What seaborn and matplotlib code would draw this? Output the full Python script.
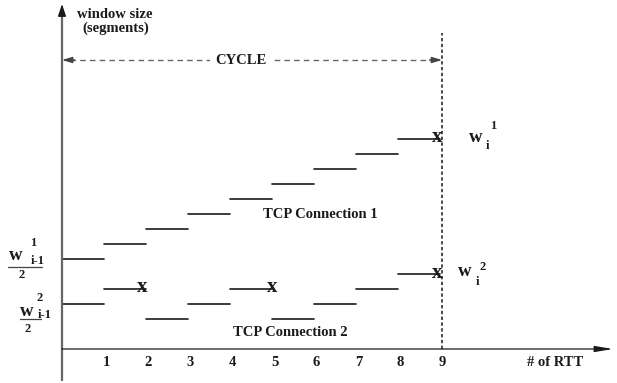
import numpy as np
import pandas as pd
import matplotlib
matplotlib.use("Agg")
import matplotlib.pyplot as plt
import seaborn as sns

# ---- data -------------------------------------------------------------
rtt_ticks = [1, 2, 3, 4, 5, 6, 7, 8, 9]
rtt_tick_labels = ["1", "2", "3", "4", "5", "6", "7", "8", "9"]

# congestion window (segments) held during each RTT interval [i, i+1)
conn1_window = [6, 7, 8, 9, 10, 11, 12, 13, 14]
conn2_window = [3, 4, 2, 3, 4, 2, 3, 4, 5]

# packet-loss events (RTT, window)
conn1_loss_rtt = [8.93]
conn1_loss_window = [14]
conn2_loss_rtt = [1.9, 5.0, 8.93]
conn2_loss_window = [4, 4, 5]

cycle_end = 9.05

# ---- long-form table of step segments ---------------------------------
rows = []
for name, wins in (("TCP Connection 1", conn1_window), ("TCP Connection 2", conn2_window)):
    for i, w in enumerate(wins):
        seg = f"{name}-{i}"
        rows.append({"connection": name, "segment": seg, "rtt": i, "window": w})
        rows.append({"connection": name, "segment": seg, "rtt": i + 1, "window": w})
steps = pd.DataFrame(rows)

# ---- figure -----------------------------------------------------------
sns.set_theme(style="white")
plt.rcParams["font.family"] = ["Liberation Serif", "DejaVu Serif"]

W, H = 617, 383
fig = plt.figure(figsize=(W / 100, H / 100), dpi=100)
ax = fig.add_axes([0, 0, 1, 1])
ax.axis("off")

X0, Y0, SX, SY = 62, 349, 42, 15  # origin and unit sizes in pixels


def dx(px):
    return (px - X0) / SX


def dy(py):
    return (Y0 - py) / SY


ax.set_xlim(dx(0), dx(W))
ax.set_ylim(dy(H), dy(0))

ink = "#1a1a1a"
bold = dict(fontweight="bold", color=ink)

# step segments of both connections
sns.lineplot(data=steps, x="rtt", y="window", units="segment", estimator=None,
             color=ink, lw=1.2, legend=False, ax=ax)

# loss marks
for xs, ys in ((conn1_loss_rtt, conn1_loss_window), (conn2_loss_rtt, conn2_loss_window)):
    for x, y in zip(xs, ys):
        ax.text(x, y + 0.1, "x", ha="center", va="center", fontsize=15, **bold)

# axes lines
ax.plot([0, 0], [dy(381), dy(10)], color="#666666", lw=1.6, solid_capstyle="butt")
ax.annotate("", xy=(0, dy(4)), xytext=(0, dy(14)),
            arrowprops=dict(arrowstyle="-|>,head_length=0.6,head_width=0.2",
                            color=ink, lw=1.0, shrinkA=0, shrinkB=0))
ax.annotate("", xy=(dx(613), 0), xytext=(0, 0),
            arrowprops=dict(arrowstyle="-|>,head_length=0.9,head_width=0.15",
                            color=ink, lw=0.9, shrinkA=0, shrinkB=0))

# end of cycle marker
ax.plot([cycle_end, cycle_end], [0, dy(33)], color=ink, lw=1.1,
        linestyle=(0, (2.2, 1.6)))

# cycle span
yc = dy(60)
ax.plot([0.2, cycle_end - 0.2], [yc, yc], color="#666666", lw=1.0,
        linestyle=(0, (4, 3)))
for a, b in ((0.3, 0.0), (cycle_end - 0.3, cycle_end)):
    ax.annotate("", xy=(b, yc), xytext=(a, yc),
                arrowprops=dict(arrowstyle="-|>,head_length=0.5,head_width=0.15",
                                color="#444444", lw=1.0, shrinkA=0, shrinkB=0))
ax.text(dx(241), yc, "CYCLE", ha="center", va="center", fontsize=10.5,
        bbox=dict(boxstyle="square,pad=0.35", fc="white", ec="none"), **bold)

# tick labels on the RTT axis
for t, lab in zip(rtt_ticks, rtt_tick_labels):
    ax.text(t + 0.06, dy(362), lab, ha="center", va="center", fontsize=10.5, **bold)
ax.text(dx(555), dy(362), "# of RTT", ha="center", va="center", fontsize=10.5, **bold)

# y-axis title
ax.text(dx(115), dy(14), "window size", ha="center", va="center", fontsize=10.5, **bold)
ax.text(dx(116), dy(28), "(segments)", ha="center", va="center", fontsize=10.5, **bold)

# curve labels
ax.text(dx(320), dy(214), "TCP Connection 1", ha="center", va="center", fontsize=10.5, **bold)
ax.text(dx(290), dy(332), "TCP Connection 2", ha="center", va="center", fontsize=10.5, **bold)

# w_{i-1}/2 labels on the left
def frac_label(w_xy, sub_xy, sup_xy, sup, line_x, line_y, two_xy):
    ax.text(dx(w_xy[0]), dy(w_xy[1]), "w", ha="center", va="center", fontsize=13.5, **bold)
    ax.text(dx(sub_xy[0]), dy(sub_xy[1]), "i-1", ha="center", va="center", fontsize=9, **bold)
    ax.text(dx(sup_xy[0]), dy(sup_xy[1]), sup, ha="center", va="center", fontsize=9, **bold)
    ax.plot([dx(line_x[0]), dx(line_x[1])], [dy(line_y), dy(line_y)], color="#444444", lw=0.9)
    ax.text(dx(two_xy[0]), dy(two_xy[1]), "2", ha="center", va="center", fontsize=9, **bold)


frac_label((16, 256), (38, 261), (33, 243), "1", (8, 42), 267, (22, 275))
frac_label((27, 311), (45, 315), (40, 298), "2", (20, 41), 319, (28, 329))

# w_i labels on the right
def wi_label(w_xy, sub_xy, sup_xy, sup):
    ax.text(dx(w_xy[0]), dy(w_xy[1]), "w", ha="center", va="center", fontsize=13.5, **bold)
    ax.text(dx(sub_xy[0]), dy(sub_xy[1]), "i", ha="center", va="center", fontsize=9, **bold)
    ax.text(dx(sup_xy[0]), dy(sup_xy[1]), sup, ha="center", va="center", fontsize=9, **bold)


wi_label((476, 138), (487, 146), (493, 126), "1")
wi_label((465, 272), (477, 282), (483, 267), "2")

fig.savefig("out.png", dpi=100, facecolor="white")
